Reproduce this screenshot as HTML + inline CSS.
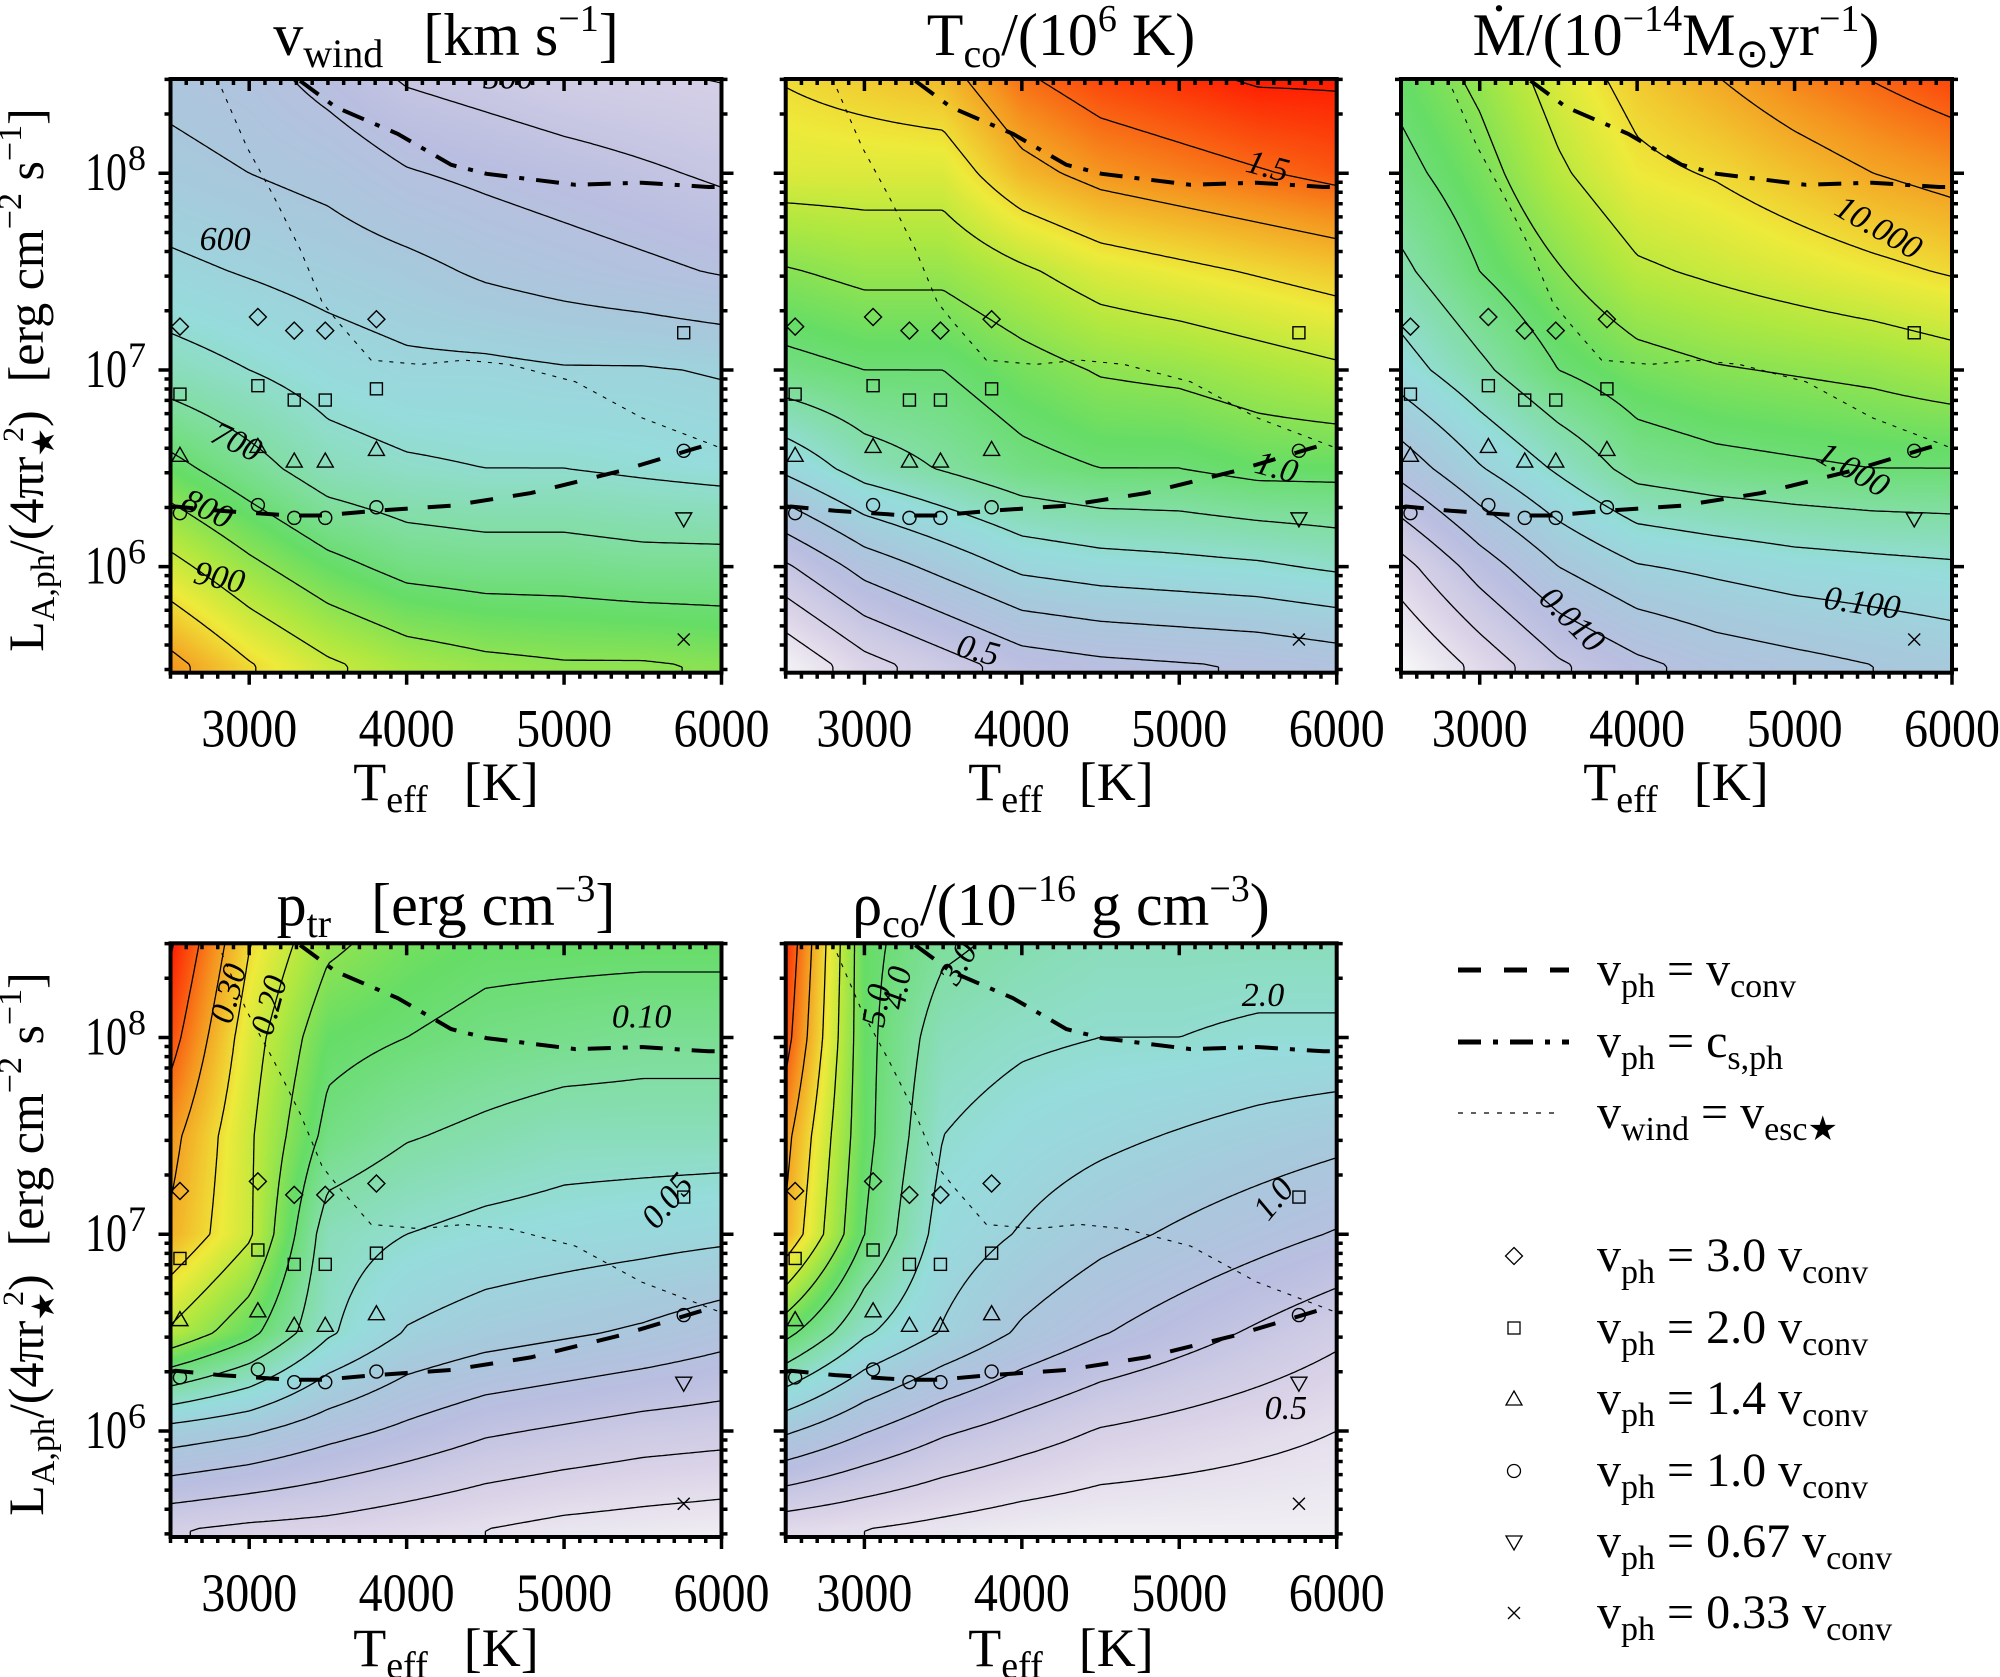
<!DOCTYPE html>
<html><head><meta charset="utf-8">
<style>
html,body{margin:0;padding:0;background:#fff;}
#wrap{position:relative;width:2000px;height:1677px;overflow:hidden;}
canvas,svg{position:absolute;left:0;top:0;}
text{font-family:"Liberation Serif",serif;fill:#000;}
</style></head>
<body>
<div id="wrap">
<canvas id="heat" width="2000" height="1677"></canvas>
<svg id="svg" width="2000" height="1677" xmlns="http://www.w3.org/2000/svg">
<defs id="defs"></defs>
<g id="marks"></g>
<!-- titles -->
<text x="446" y="55" font-size="60" text-anchor="middle">v<tspan font-size="40" baseline-shift="-12">wind</tspan><tspan dx="40">[km s</tspan><tspan font-size="38" baseline-shift="24">−1</tspan>]</text>
<text x="1061" y="55" font-size="60" text-anchor="middle">T<tspan font-size="40" baseline-shift="-12">co</tspan>/(10<tspan font-size="38" baseline-shift="24">6</tspan> K)</text>
<text x="1676" y="55" font-size="60" text-anchor="middle">Ṁ/(10<tspan font-size="38" baseline-shift="24">−14</tspan>M<tspan font-size="40" baseline-shift="-12">⊙</tspan>yr<tspan font-size="38" baseline-shift="24">−1</tspan>)</text>
<text x="446" y="925" font-size="60" text-anchor="middle">p<tspan font-size="40" baseline-shift="-12">tr</tspan><tspan dx="40">[erg cm</tspan><tspan font-size="38" baseline-shift="24">−3</tspan>]</text>
<text x="1061" y="925" font-size="60" text-anchor="middle">ρ<tspan font-size="40" baseline-shift="-12">co</tspan>/(10<tspan font-size="38" baseline-shift="24">−16</tspan> g cm<tspan font-size="38" baseline-shift="24">−3</tspan>)</text>
<!-- x axis titles -->
<text x="446" y="800" font-size="54" text-anchor="middle">T<tspan font-size="38" baseline-shift="-12">eff</tspan><tspan dx="36">[K]</tspan></text>
<text x="1061" y="800" font-size="54" text-anchor="middle">T<tspan font-size="38" baseline-shift="-12">eff</tspan><tspan dx="36">[K]</tspan></text>
<text x="1676" y="800" font-size="54" text-anchor="middle">T<tspan font-size="38" baseline-shift="-12">eff</tspan><tspan dx="36">[K]</tspan></text>
<text x="446" y="1666" font-size="54" text-anchor="middle">T<tspan font-size="38" baseline-shift="-12">eff</tspan><tspan dx="36">[K]</tspan></text>
<text x="1061" y="1666" font-size="54" text-anchor="middle">T<tspan font-size="38" baseline-shift="-12">eff</tspan><tspan dx="36">[K]</tspan></text>
<!-- y axis titles -->
<text transform="translate(43,380) rotate(-90)" font-size="50" text-anchor="middle">L<tspan font-size="34" baseline-shift="-11">A,ph</tspan>/(4πr<tspan font-size="32" baseline-shift="-11">★</tspan><tspan font-size="30" baseline-shift="20" dx="-14">2</tspan>)<tspan dx="28">[erg cm</tspan><tspan font-size="34" baseline-shift="22">−2</tspan> s<tspan font-size="34" baseline-shift="22">−1</tspan>]</text>
<text transform="translate(43,1244) rotate(-90)" font-size="50" text-anchor="middle">L<tspan font-size="34" baseline-shift="-11">A,ph</tspan>/(4πr<tspan font-size="32" baseline-shift="-11">★</tspan><tspan font-size="30" baseline-shift="20" dx="-14">2</tspan>)<tspan dx="28">[erg cm</tspan><tspan font-size="34" baseline-shift="22">−2</tspan> s<tspan font-size="34" baseline-shift="22">−1</tspan>]</text>
<!-- legend -->
<g>
<line x1="1458" y1="970" x2="1569" y2="970" stroke="#000" stroke-width="5" stroke-dasharray="23,23"/>
<text x="1597" y="985" font-size="48">v<tspan font-size="34" baseline-shift="-12">ph</tspan> = v<tspan font-size="34" baseline-shift="-12">conv</tspan></text>
<line x1="1458" y1="1042" x2="1569" y2="1042" stroke="#000" stroke-width="5" stroke-dasharray="23,12,5,12"/>
<text x="1597" y="1057" font-size="48">v<tspan font-size="34" baseline-shift="-12">ph</tspan> = c<tspan font-size="34" baseline-shift="-12">s,ph</tspan></text>
<line x1="1458" y1="1113" x2="1562" y2="1113" stroke="#000" stroke-width="1.2" stroke-dasharray="5,8"/>
<text x="1597" y="1128" font-size="48">v<tspan font-size="34" baseline-shift="-12">wind</tspan> = v<tspan font-size="34" baseline-shift="-12">esc★</tspan></text>
<g id="legmarks" fill="none" stroke="#000" stroke-width="1.3"></g>
<text x="1597" y="1271" font-size="48">v<tspan font-size="34" baseline-shift="-12">ph</tspan> = 3.0 v<tspan font-size="34" baseline-shift="-12">conv</tspan></text>
<text x="1597" y="1343" font-size="48">v<tspan font-size="34" baseline-shift="-12">ph</tspan> = 2.0 v<tspan font-size="34" baseline-shift="-12">conv</tspan></text>
<text x="1597" y="1414" font-size="48">v<tspan font-size="34" baseline-shift="-12">ph</tspan> = 1.4 v<tspan font-size="34" baseline-shift="-12">conv</tspan></text>
<text x="1597" y="1486" font-size="48">v<tspan font-size="34" baseline-shift="-12">ph</tspan> = 1.0 v<tspan font-size="34" baseline-shift="-12">conv</tspan></text>
<text x="1597" y="1557" font-size="48">v<tspan font-size="34" baseline-shift="-12">ph</tspan> = 0.67 v<tspan font-size="34" baseline-shift="-12">conv</tspan></text>
<text x="1597" y="1628" font-size="48">v<tspan font-size="34" baseline-shift="-12">ph</tspan> = 0.33 v<tspan font-size="34" baseline-shift="-12">conv</tspan></text>
</g>
</svg>
</div>
<script>
// ---- data ----
const Tcols=[2500,3000,3500,4000,4500,5000,5500,6000];
const logRows=[8.5,8.0,7.5,7.0,6.5,6.0,5.5];
const vwindGrid=[
[.32,.30,.25,.20,.18,.16,.15,.14],
[.36,.34,.32,.28,.26,.24,.22,.20],
[.42,.40,.38,.36,.33,.31,.29,.27],
[.50,.47,.44,.42,.42,.41,.41,.40],
[.62,.56,.50,.48,.47,.47,.46,.45],
[.75,.68,.62,.58,.57,.57,.56,.56],
[.88,.80,.74,.70,.68,.67,.67,.66]];
const tcoGrid=[
[.80,.82,.84,.92,.96,.98,1.0,1.0],
[.76,.76,.76,.84,.88,.90,.92,.94],
[.66,.68,.68,.72,.76,.78,.80,.82],
[.58,.60,.60,.64,.67,.68,.70,.72],
[.42,.50,.54,.58,.60,.60,.62,.62],
[.20,.30,.36,.42,.44,.45,.46,.48],
[.02,.12,.18,.24,.26,.27,.28,.30]];
const mdotGrid=[
[.62,.68,.76,.82,.86,.90,.93,.96],
[.58,.64,.72,.78,.80,.83,.86,.88],
[.52,.60,.66,.72,.74,.76,.78,.80],
[.44,.52,.60,.64,.66,.67,.68,.70],
[.30,.40,.48,.56,.58,.59,.60,.60],
[.12,.24,.34,.40,.42,.44,.45,.46],
[.00,.10,.20,.26,.30,.32,.34,.36]];
const ptrGrid=[
[1.0,.80,.68,.64,.62,.62,.62,.62],
[.95,.76,.62,.60,.58,.57,.56,.56],
[.88,.74,.58,.54,.52,.50,.50,.50],
[.85,.74,.50,.47,.45,.44,.43,.42],
[.72,.62,.48,.40,.37,.35,.33,.30],
[.38,.35,.30,.26,.22,.20,.18,.17],
[.15,.13,.12,.10,.08,.06,.05,.04]];
const rhoGrid=[
[.98,.62,.55,.52,.50,.50,.50,.50],
[.95,.62,.50,.48,.47,.47,.46,.46],
[.88,.62,.47,.44,.42,.40,.38,.36],
[.85,.60,.44,.40,.36,.33,.30,.27],
[.62,.48,.40,.33,.28,.24,.20,.16],
[.35,.28,.22,.18,.14,.12,.10,.08],
[.10,.08,.06,.04,.03,.03,.03,.03]];
const contourLevels=[0.08,0.145,0.21,0.275,0.34,0.405,0.47,0.535,0.6,0.665,0.73,0.795,0.86,0.925,0.99];

const vconvT=[2500,2532,2815,3265,3464,3802,4283,4788,5355,5830,6000];
const vconvL=[6.30,6.306,6.284,6.26,6.26,6.284,6.31,6.374,6.486,6.60,6.64];
const csT=[3323,3549,3944,4283,4508,5072,5494,5917,6000];
const csL=[8.47,8.336,8.2,8.043,7.997,7.941,7.952,7.93,7.93];
const vescT=[2800,2815,2985,3154,3323,3464,3577,3774,4084,4367,4649,5072,5494,5974,6000];
const vescL=[8.48,8.448,8.133,7.885,7.614,7.343,7.231,7.05,7.028,7.05,7.028,6.94,6.757,6.61,6.60];

const diamondT=[2560,3055,3286,3483,3808];
const diamondL=[7.22,7.269,7.2,7.2,7.258];
const squareT=[2560,3055,3286,3483,3808,5760];
const squareL=[6.877,6.92,6.847,6.847,6.904,7.189];
const triUpT=[2560,3055,3286,3483,3808];
const triUpL=[6.566,6.611,6.537,6.537,6.596];
const circleT=[2560,3055,3286,3483,3808,5760];
const circleL=[6.272,6.313,6.248,6.248,6.302,6.589];
const triDownT=[5760];
const triDownL=[6.243];
const crossT=[5760];
const crossL=[5.63];

const xTicks=[3000,4000,5000,6000];
const xTickLabels=['3000','4000','5000','6000'];
const yTicks=[6,7,8];
const yTickLabels=['6','7','8'];

const labels=[
 {text:['500','600','700','800','900'],T:[4645,2847,2911,2726,2806],L:[8.47,7.65,6.62,6.28,5.93],rot:[0,0,25,25,12]},
 {text:['1.5','1.0','0.5'],T:[5557,5613,3718],L:[8.02,6.49,5.56],rot:[15,15,15]},
 {text:['10.000','1.000','0.100','0.010'],T:[5524,5363,5427,3573],L:[7.71,6.48,5.80,5.72],rot:[30,30,8,45]},
 {text:['0.30','0.20','0.10','0.05'],T:[2887,3145,5493,5670],L:[8.22,8.16,8.09,7.16],rot:[-75,-75,0,-50]},
 {text:['5.0','4.0','3.0','2.0','1.0','0.5'],T:[3097,3226,3613,5532,5613,5677],L:[8.16,8.25,8.37,8.20,7.17,6.10],rot:[-80,-80,-60,0,-50,0]}
];

// ---- geometry ----
const W=551,H=593.7,LTOP=8.479,LBOT=5.461,TMIN=2500,TMAX=6000;
const panels=[
 {id:'vwind',grid:vwindGrid,x0:170.5,y0:79,yl:true},
 {id:'tco',grid:tcoGrid,x0:785.7,y0:79,yl:false},
 {id:'mdot',grid:mdotGrid,x0:1401,y0:79,yl:false},
 {id:'ptr',grid:ptrGrid,x0:170.5,y0:943.3,yl:true},
 {id:'rhoco',grid:rhoGrid,x0:785.7,y0:943.3,yl:false}];
function xs(p,T){return p.x0+(T-TMIN)/(TMAX-TMIN)*W;}
function ys(p,l){return p.y0+(LTOP-l)/(LTOP-LBOT)*H;}
function field(g,T,l){
 let c=(T-2500)/500, r=(8.5-l)/0.5;
 c=Math.max(0,Math.min(6.9999,c)); r=Math.max(0,Math.min(5.9999,r));
 const ci=Math.floor(c),ri=Math.floor(r),fc=c-ci,fr=r-ri;
 return g[ri][ci]*(1-fc)*(1-fr)+g[ri][ci+1]*fc*(1-fr)+g[ri+1][ci]*(1-fc)*fr+g[ri+1][ci+1]*fc*fr;
}
const stops=[[0,[247,247,247]],[0.12,[220,212,232]],[0.25,[186,190,224]],[0.35,[168,200,220]],[0.45,[150,220,220]],[0.55,[126,222,154]],[0.62,[102,221,102]],[0.71,[176,232,64]],[0.78,[238,234,58]],[0.88,[245,150,32]],[1.0,[255,24,0]]];
function cmap(v){
 v=Math.max(0,Math.min(1,v));
 for(let i=1;i<stops.length;i++){ if(v<=stops[i][0]){const a=stops[i-1],b=stops[i],f=(v-a[0])/(b[0]-a[0]);return [0,1,2].map(k=>a[1][k]+(b[1][k]-a[1][k])*f);} }
 return stops[stops.length-1][1];
}
// ---- heatmap ----
const cv=document.getElementById('heat'),ctx=cv.getContext('2d');
ctx.fillStyle='#fff';ctx.fillRect(0,0,2000,1677);
panels.forEach(p=>{
 const x0=Math.round(p.x0),y0=Math.round(p.y0),w=Math.round(W),h=Math.round(H);
 const img=ctx.createImageData(w,h);
 for(let j=0;j<h;j++){const l=LTOP-(j+0.5)/h*(LTOP-LBOT);
  for(let i=0;i<w;i++){const T=TMIN+(i+0.5)/w*(TMAX-TMIN);const c=cmap(field(p.grid,T,l));const k=(j*w+i)*4;img.data[k]=c[0];img.data[k+1]=c[1];img.data[k+2]=c[2];img.data[k+3]=255;}}
 ctx.putImageData(img,x0,y0);
});
// ---- svg ----
const NS='http://www.w3.org/2000/svg';
const marks=document.getElementById('marks');
const defs=document.getElementById('defs');
function mk(tag,attrs,parent){const e=document.createElementNS(NS,tag);for(const k in attrs)e.setAttribute(k,attrs[k]);(parent||marks).appendChild(e);return e;}
function linePath(p,Ts,Ls){return Ts.map((T,i)=>(i?'L':'M')+xs(p,T).toFixed(1)+' '+ys(p,Ls[i]).toFixed(1)).join(' ');}
function marker(kind,x,y,parent,name){
 let e;
 if(kind==='d')e=mk('path',{d:`M${x} ${y-8.5} L${x+8.5} ${y} L${x} ${y+8.5} L${x-8.5} ${y} Z`},parent);
 else if(kind==='s')e=mk('rect',{x:x-6,y:y-6,width:12,height:12},parent);
 else if(kind==='u')e=mk('path',{d:`M${x} ${y-8} L${x+8} ${y+6} L${x-8} ${y+6} Z`},parent);
 else if(kind==='o')e=mk('circle',{cx:x,cy:y,r:6.5},parent);
 else if(kind==='v')e=mk('path',{d:`M${x} ${y+8} L${x+8} ${y-6} L${x-8} ${y-6} Z`},parent);
 else e=mk('path',{d:`M${x-6} ${y-6} L${x+6} ${y+6} M${x+6} ${y-6} L${x-6} ${y+6}`},parent);
 
 
 return e;
}
const series=[['d',diamondT,diamondL,'diamond'],['s',squareT,squareL,'square'],['u',triUpT,triUpL,'triangle-up'],['o',circleT,circleL,'circle'],['v',triDownT,triDownL,'triangle-down'],['x',crossT,crossL,'cross']];

panels.forEach((p,pi)=>{
 const cp=mk('clipPath',{id:'clip'+pi},defs);
 mk('rect',{x:p.x0,y:p.y0,width:W,height:H},cp);
 const g=mk('g',{'clip-path':'url(#clip'+pi+')'});
 
 
 const st=3,nx=Math.ceil(W/st)+1,ny=Math.ceil(H/st)+1;const val=[];
 for(let j=0;j<ny;j++){val.push([]);for(let i=0;i<nx;i++){const T=TMIN+Math.min(W,i*st)/W*(TMAX-TMIN),l=LTOP-Math.min(H,j*st)/H*(LTOP-LBOT);val[j].push(field(p.grid,T,l));}}
 contourLevels.forEach(lv=>{
  let d='';
  for(let j=0;j<ny-1;j++)for(let i=0;i<nx-1;i++){
   const c=[[i,j],[i+1,j],[i+1,j+1],[i,j+1]];const pts=[];
   for(let e=0;e<4;e++){const a=c[e],b=c[(e+1)%4];const va=val[a[1]][a[0]],vb=val[b[1]][b[0]];
    if((va<lv)!==(vb<lv)){const f=(lv-va)/(vb-va);pts.push([p.x0+(a[0]+(b[0]-a[0])*f)*st,p.y0+(a[1]+(b[1]-a[1])*f)*st]);}}
   for(let k=0;k+1<pts.length;k+=2)d+=`M${pts[k][0].toFixed(1)} ${pts[k][1].toFixed(1)}L${pts[k+1][0].toFixed(1)} ${pts[k+1][1].toFixed(1)}`;
  }
  if(d){const c=mk('path',{d:d,fill:'none',stroke:'#000','stroke-width':1.3},g);
   
   }
 });
 const l1=mk('path',{d:linePath(p,vescT,vescL),fill:'none',stroke:'#000','stroke-width':1.1,'stroke-dasharray':'4,7'},g);
 
 
 const l2=mk('path',{d:linePath(p,csT,csL),fill:'none',stroke:'#000','stroke-width':4,'stroke-dasharray':'23,12,5,12'},g);
 
 
 const l3=mk('path',{d:linePath(p,vconvT,vconvL),fill:'none',stroke:'#000','stroke-width':4,'stroke-dasharray':'23,20'},g);
 
 
 const mg=mk('g',{fill:'none',stroke:'#000','stroke-width':1.4},g);
 
 
 series.forEach(s=>{s[1].forEach((T,i)=>marker(s[0],xs(p,T),ys(p,s[2][i]),mg,'marker-'+s[3]));});
 const lb=labels[pi];
 lb.text.forEach((t,i)=>{const x=xs(p,lb.T[i]),y=ys(p,lb.L[i]);
  const e=mk('text',{x:x,y:y,'font-size':34,'font-style':'italic','text-anchor':'middle','dominant-baseline':'middle',transform:`rotate(${lb.rot[i]} ${x} ${y})`},g);
  e.textContent=t;
  
  });
 const fr=mk('rect',{x:p.x0,y:p.y0,width:W,height:H,fill:'none',stroke:'#000','stroke-width':4});
 
 
 let td='';
 for(let T=2500;T<=6000;T+=100){const x=xs(p,T);const maj=xTicks.indexOf(T)>=0;
  td+=`M${x} ${p.y0+H}L${x} ${p.y0+H+(maj?12:6)}M${x} ${p.y0}L${x} ${p.y0+(maj?12:6)}`;}
 for(let n=5;n<=8;n++)for(let k=1;k<10;k++){const l=n+Math.log10(k);if(l<LBOT||l>LTOP)continue;const y=ys(p,l);const len=k===1?12:6;
  td+=`M${p.x0} ${y}L${p.x0-len} ${y}M${p.x0+W} ${y}L${p.x0+W+len} ${y}`;}
 const tk=mk('path',{d:td,stroke:'#000','stroke-width':3.5,fill:'none'});
 
 
 xTicks.forEach((T,i)=>{const e=mk('text',{x:xs(p,T),y:p.y0+H+74,'font-size':54,'text-anchor':'middle',textLength:96,lengthAdjust:'spacingAndGlyphs'});
  e.textContent=xTickLabels[i];
  
  });
 if(p.yl){yTicks.forEach((l,i)=>{const y=ys(p,l);
  const e=mk('text',{x:127,y:y+17,'font-size':54,'text-anchor':'end',textLength:42,lengthAdjust:'spacingAndGlyphs'});
  e.textContent='10';
  
  
  const s=mk('text',{x:128,y:y-3,'font-size':36});
  s.textContent=yTickLabels[i];
  
  });}
});
const lm=document.getElementById('legmarks');
const legY=[1256,1328,1399,1471,1542,1613];
series.forEach((s,i)=>marker(s[0],1514,legY[i],lm,'legend-marker-'+s[3]));
</script>
</body></html>
